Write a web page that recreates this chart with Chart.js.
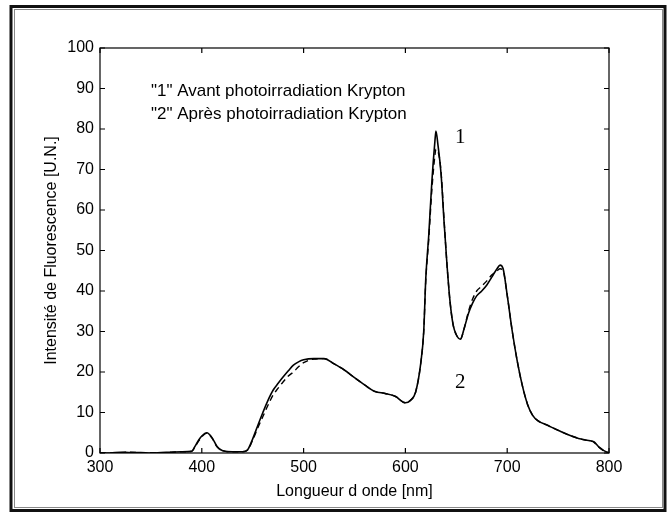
<!DOCTYPE html>
<html><head><meta charset="utf-8">
<script src="https://cdn.jsdelivr.net/npm/chart.js@4.4.0/dist/chart.umd.min.js"></script>
<style>html,body{margin:0;padding:0;background:#fff;}canvas{display:block;}</style>
</head><body>
<canvas id="c" width="669" height="515"></canvas>
<script>
// ---- data ----
const wavelengths = [300,310,320,330,340,350,360,370,380,390,393,397,400,405,410,415,420,430,440,445,450,455,460,465,470,475,480,485,490,495,500,510,520,530,540,550,560,570,580,590,600,605,610,615,618,620,623,626,629,630,632,635,638,641,644,647,650,654,658,662,666,670,675,680,685,690,693,696,700,705,710,715,720,725,730,740,750,760,770,780,785,790,795,800];
const avant = [0,0,0.2,0.1,0.1,0,0.1,0.2,0.3,0.4,1.5,3.2,4.2,5.0,3.8,1.6,0.6,0.3,0.3,0.8,3.5,6.8,10.0,13.0,15.5,17.2,18.8,20.3,21.7,22.5,23.0,23.3,23.3,22.0,20.5,18.6,16.8,15.2,14.7,14.0,12.4,13.0,15.0,22.0,30.0,43.0,54.0,67.0,77.0,79.5,76.0,69.0,57.0,46.0,37.0,31.5,29.2,28.1,31.0,34.5,37.0,38.8,40.0,41.5,43.5,45.5,46.4,45.5,39.0,30.0,22.5,16.5,12.0,9.3,8.0,6.8,5.6,4.5,3.6,3.1,2.8,1.5,0.6,0.0];
const apres = [0,0,0.1,0.2,0.1,0.1,0,0.2,0.3,0.4,1.4,3.0,4.0,4.9,3.7,1.5,0.6,0.3,0.3,0.7,3.2,6.2,9.0,11.8,14.3,16.0,17.6,19.0,20.0,21.3,22.3,23.2,23.3,22.0,20.5,18.6,16.8,15.2,14.7,14.0,12.4,13.0,15.0,22.0,30.0,42.5,53.0,65.0,73.5,75.0,74.5,69.5,57.5,46.0,37.0,31.5,29.2,28.1,31.0,35.0,38.0,40.0,41.2,42.5,44.0,45.0,45.5,45.0,39.0,30.0,22.5,16.5,12.0,9.3,8.0,6.8,5.6,4.5,3.6,3.0,2.7,1.4,0.5,0.0];
const xTicks = [300,400,500,600,700,800];
const yTicks = [0,10,20,30,40,50,60,70,80,90,100];
const xTitle = 'Longueur d onde [nm]';
const yTitle = 'Intensité de Fluorescence [U.N.]';
const legendLines = ['"1" Avant photoirradiation Krypton', '"2" Après photoirradiation Krypton'];
const curveLabels = ['1', '2'];

const FONT = "'Liberation Sans', Arial, sans-serif";

const decor = {
  id: 'decor',
  afterDraw(chart) {
    const ctx = chart.ctx, a = chart.chartArea;
    const xs = chart.scales.x, ys = chart.scales.y;
    ctx.save();
    // outer frame
    ctx.strokeStyle = '#111';
    ctx.lineWidth = 3;
    ctx.strokeRect(11, 6.5, 654, 504);
    ctx.strokeStyle = '#888';
    ctx.lineWidth = 1;
    ctx.strokeRect(14.5, 9.5, 648, 498);
    // plot box
    ctx.strokeStyle = '#000';
    ctx.lineWidth = 1.2;
    ctx.strokeRect(a.left, a.top, a.right - a.left, a.bottom - a.top);
    // inward ticks
    const tl = 5;
    ctx.beginPath();
    xTicks.forEach(v => {
      const px = xs.getPixelForValue(v);
      ctx.moveTo(px, a.bottom); ctx.lineTo(px, a.bottom - tl);
      ctx.moveTo(px, a.top); ctx.lineTo(px, a.top + tl);
    });
    yTicks.forEach(v => {
      const py = ys.getPixelForValue(v);
      ctx.moveTo(a.left, py); ctx.lineTo(a.left + tl, py);
      ctx.moveTo(a.right, py); ctx.lineTo(a.right - tl, py);
    });
    ctx.stroke();
    // legend text
    ctx.fillStyle = '#000';
    ctx.font = '17px ' + FONT;
    ctx.textBaseline = 'middle';
    ctx.textAlign = 'left';
    const lx = xs.getPixelForValue(350);
    ctx.fillText(legendLines[0], lx, ys.getPixelForValue(89.2));
    ctx.fillText(legendLines[1], lx, ys.getPixelForValue(83.6));
    // curve labels
    ctx.font = '21px "Liberation Serif", "Times New Roman", serif';
    ctx.textAlign = 'center';
    ctx.fillText(curveLabels[0], xs.getPixelForValue(654), ys.getPixelForValue(78));
    ctx.fillText(curveLabels[1], xs.getPixelForValue(654), ys.getPixelForValue(17.3));
    ctx.restore();
  }
};

new Chart(document.getElementById('c'), {
  type: 'line',
  data: {
    datasets: [
      { label: 'Avant', data: wavelengths.map((w, i) => ({x: w, y: avant[i]})),
        borderColor: '#000', borderWidth: 1.6, pointRadius: 0, cubicInterpolationMode: 'monotone', fill: false },
      { label: 'Après', data: wavelengths.map((w, i) => ({x: w, y: apres[i]})),
        borderColor: '#000', borderWidth: 1.4, borderDash: [6, 4], pointRadius: 0, cubicInterpolationMode: 'monotone', fill: false }
    ]
  },
  options: {
    responsive: false,
    animation: false,
    layout: { padding: { left: 0, right: 60, top: 48, bottom: 0 } },
    plugins: { legend: { display: false }, tooltip: { enabled: false } },
    scales: {
      x: {
        type: 'linear', min: 300, max: 800,
        afterBuildTicks: s => { s.ticks = xTicks.map(v => ({value: v})); },
        afterFit: s => { s.height = 62; },
        grid: { display: false, drawTicks: false },
        border: { display: false },
        ticks: { color: '#000', font: { size: 16, family: FONT }, padding: 5, maxRotation: 0 },
        title: { display: true, text: xTitle, color: '#000', font: { size: 16, family: FONT }, padding: { top: 0, bottom: 14 } }
      },
      y: {
        min: 0, max: 100,
        afterBuildTicks: s => { s.ticks = yTicks.map(v => ({value: v})); },
        afterFit: s => { s.width = 100; },
        grid: { display: false, drawTicks: false },
        border: { display: false },
        ticks: { color: '#000', font: { size: 16, family: FONT }, padding: 6 },
        title: { display: true, text: yTitle, color: '#000', font: { size: 16, family: FONT }, padding: { top: 42, bottom: 0 } }
      }
    }
  },
  plugins: [decor]
});
</script>
</body></html>
